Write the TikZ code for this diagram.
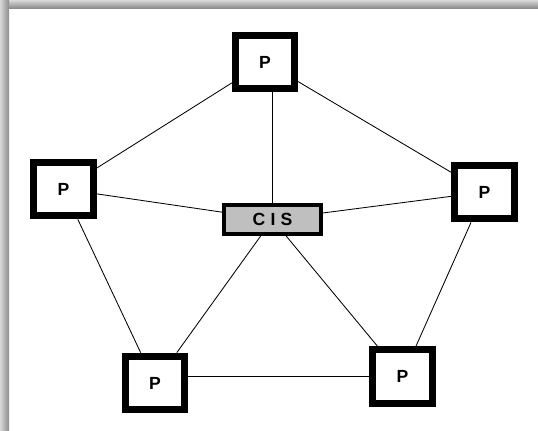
\documentclass[tikz,border=0pt]{standalone}
\usepackage{fontspec}
\setmainfont{Liberation Sans}
\newfontfamily\spacedfont[LetterSpace=30]{Liberation Sans}
\usepackage{tikz}
\usepackage{xcolor}

\begin{document}
\begin{tikzpicture}[x=0.025cm,y=-0.025cm,
            proc/.style={draw,line width=5pt,fill=white,minimum width=1.48cm,minimum height=1.34cm,inner sep=0pt,font=\fontsize{12.5}{14}\selectfont\bfseries},
            cis/.style={draw,line width=2.8pt,fill=black!25,minimum width=2.43cm,minimum height=0.73cm,inner sep=0pt,font=\spacedfont\fontsize{12.5}{14}\selectfont\bfseries},
            link/.style={line width=0.6pt}]
            \useasboundingbox (0,0) rectangle (538,430);
            \fill[white] (0,0) rectangle (538,430);
            % shadow along the top and left edges
            \shade[top color=black!15,bottom color=black!45] (0,0) rectangle (538,8);
            \shade[left color=black!15,right color=black!45] (0,0) rectangle (9,430);
            
            \node[cis] (cis) at (272.5,219.5) {CIS};
            \node[proc] (top) at (265,62) {P};
            \node[proc] (left) at (63.5,189) {P};
            \node[proc] (right) at (484.5,192) {P};
            \node[proc] (botleft) at (155,383) {P};
            \node[proc] (botright) at (402.5,376.5) {P};
            
            \draw[link] (cis.north) -- (cis.north |- top.south);
            \draw[link] (top) -- (left);
            \draw[link] (top) -- (right);
            \draw[link] (left) -- (cis);
            \draw[link] (right) -- (cis);
            \draw[link] (left) -- (botleft);
            \draw[link] (right) -- (botright);
            \draw[link] (cis) -- (botleft);
            \draw[link] (cis) -- (botright);
            \draw[link] (botleft.east |- botright) -- (botright.west);
        \end{tikzpicture}
\end{document}
